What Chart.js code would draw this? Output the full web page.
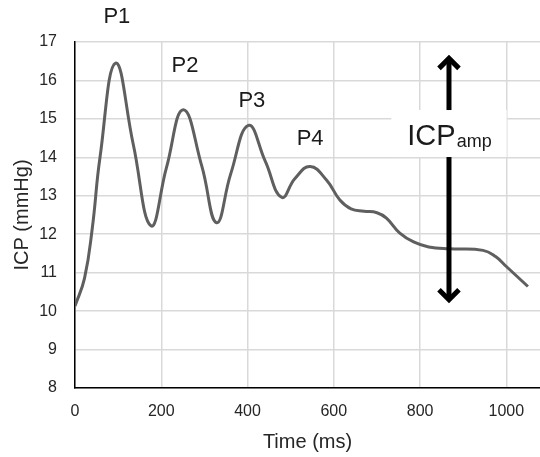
<!DOCTYPE html>
<html>
<head>
<meta charset="utf-8">
<script src="https://cdn.jsdelivr.net/npm/chart.js@4.4.1/dist/chart.umd.min.js"></script>
<style>
  html, body { margin: 0; padding: 0; background: #fff; }
  #wrap { width: 540px; height: 457px; }
</style>
</head>
<body>
<div id="wrap"><canvas id="icpChart"></canvas></div>
<script>
// ICP waveform: peaks, troughs and the mid-level crossings between them
const timeMs = [0, 22, 40, 58, 94, 135, 176, 212, 251, 294, 328, 361, 402, 441, 479, 510, 545,
    583, 614, 640, 670, 700, 722, 753, 785, 820, 869, 946, 975, 1000, 1050];
const icpValues = [10.13, 10.85, 12.15, 14.0, 16.45, 14.34, 12.22, 13.73, 15.24, 13.77, 12.3, 13.57, 14.83, 13.9, 12.96, 13.45, 13.76,
    13.41, 12.89, 12.66, 12.6, 12.56, 12.42, 12.03, 11.8, 11.67, 11.62, 11.58, 11.42, 11.16, 10.64];

const xTicks = [0, 200, 400, 600, 800, 1000];
const yTicks = [8, 9, 10, 11, 12, 13, 14, 15, 16, 17];

// peak labels (placed in data units)
const peakNames = ['P1', 'P2', 'P3', 'P4'];
const peakX = [97, 255, 410, 545];
const peakY = [17.66, 16.38, 15.47, 14.48];

// amplitude arrow
const ampX = 867;
const ampTop = 16.6;
const ampBottom = 10.27;
const ampLabelY = 14.32;

const annotations = {
    id: 'annotations',
    afterDraw(chart) {
        const ctx = chart.ctx;
        const xs = chart.scales.x, ys = chart.scales.y;
        ctx.save();

        // P1..P4
        ctx.fillStyle = '#1a1a1a';
        ctx.font = '22px "Liberation Sans", Arial, sans-serif';
        ctx.textAlign = 'center';
        ctx.textBaseline = 'middle';
        peakNames.forEach((n, i) => ctx.fillText(n, xs.getPixelForValue(peakX[i]), ys.getPixelForValue(peakY[i])));

        // double arrow
        const ax = xs.getPixelForValue(ampX);
        const top = ys.getPixelForValue(ampTop);
        const bot = ys.getPixelForValue(ampBottom);
        ctx.strokeStyle = '#000';
        ctx.lineWidth = 5;
        ctx.lineJoin = 'miter';
        ctx.beginPath();
        ctx.moveTo(ax, top + 1);
        ctx.lineTo(ax, bot - 1);
        ctx.stroke();
        ctx.beginPath();
        ctx.moveTo(ax - 10, top + 11);
        ctx.lineTo(ax, top + 1);
        ctx.lineTo(ax + 10, top + 11);
        ctx.moveTo(ax - 10, bot - 11);
        ctx.lineTo(ax, bot - 1);
        ctx.lineTo(ax + 10, bot - 11);
        ctx.stroke();

        // label box
        const base = ys.getPixelForValue(ampLabelY);
        ctx.font = '29px "Liberation Sans", Arial, sans-serif';
        const w1 = ctx.measureText('ICP').width;
        ctx.font = '18px "Liberation Sans", Arial, sans-serif';
        const w2 = ctx.measureText('amp').width;
        const left = ax - (w1 + w2) / 2;
        ctx.fillStyle = '#fff';
        ctx.fillRect(left - 16, base - 35, w1 + w2 + 32, 47);

        ctx.fillStyle = '#1a1a1a';
        ctx.textAlign = 'left';
        ctx.textBaseline = 'alphabetic';
        ctx.font = '29px "Liberation Sans", Arial, sans-serif';
        ctx.fillText('ICP', left, base);
        ctx.font = '18px "Liberation Sans", Arial, sans-serif';
        ctx.fillText('amp', left + w1 + 1, base + 2);
        ctx.restore();
    }
};

const tickFont = { family: '"Liberation Sans", Arial, sans-serif', size: 16 };
const titleFont = { family: '"Liberation Sans", Arial, sans-serif', size: 20 };

new Chart(document.getElementById('icpChart').getContext('2d'), {
    type: 'line',
    data: {
        datasets: [{
            data: timeMs.map((t, i) => ({ x: t, y: icpValues[i] })),
            borderColor: '#5f5f5f',
            borderWidth: 3,
            pointRadius: 0,
            tension: 0.45,
            fill: false
        }]
    },
    options: {
        responsive: true,
        maintainAspectRatio: false,
        animation: false,
        layout: { padding: { top: 42, right: 0, bottom: 0, left: 0 } },
        plugins: { legend: { display: false }, tooltip: { enabled: false } },
        scales: {
            x: {
                type: 'linear',
                min: 0,
                max: 1078,
                afterBuildTicks: (s) => { s.ticks = xTicks.map(v => ({ value: v })); },
                afterFit: (s) => { s.height = 69; },
                ticks: { font: tickFont, color: '#262626', padding: 14, maxRotation: 0, callback: (v) => String(v) },
                grid: { color: '#d9d9d9', lineWidth: 1.5, drawTicks: false },
                border: { color: '#000', width: 1.5 },
                title: { display: true, text: 'Time (ms)', font: titleFont, color: '#262626', padding: { top: 0, bottom: 3 } }
            },
            y: {
                min: 8,
                max: 17,
                afterBuildTicks: (s) => { s.ticks = yTicks.map(v => ({ value: v })); },
                afterFit: (s) => { s.width = 75; },
                ticks: { font: tickFont, color: '#262626', padding: 18 },
                grid: { color: '#d9d9d9', lineWidth: 1.5, drawTicks: false },
                border: { color: '#000', width: 1.5 },
                title: { display: true, text: 'ICP (mmHg)', font: titleFont, color: '#262626', padding: { top: 10, bottom: 0 } }
            }
        }
    },
    plugins: [annotations]
});
</script>
</body>
</html>
